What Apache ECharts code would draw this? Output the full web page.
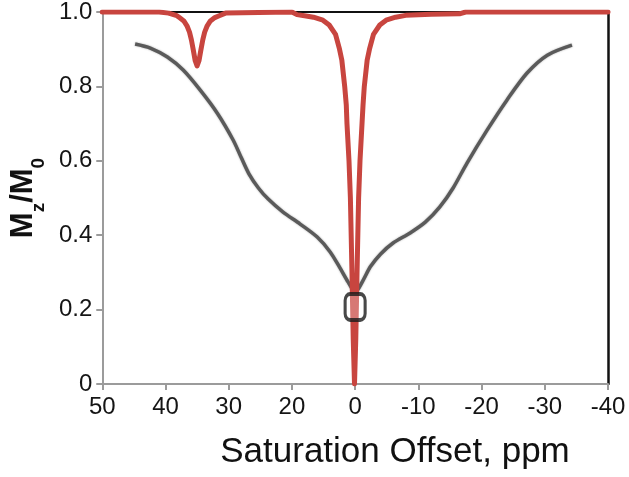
<!DOCTYPE html>
<html>
<head>
<meta charset="utf-8">
<script src="https://cdn.jsdelivr.net/npm/echarts@6/dist/echarts.min.js"></script>
<style>
html,body{margin:0;padding:0;background:#fff;}
#chart{width:629px;height:477px;}
</style>
</head>
<body>
<div id="chart"></div>
<script>
// X tick labels as printed on the original axis (equally spaced ticks)
var xTickLabels = ['50', '40', '30', '20', '0', '-10', '-20', '-30', '-40'];
var yTickLabels = ['0', '0.2', '0.4', '0.6', '0.8', '1.0'];

// Red curve (axis position units, 0 = central dip)
var redX = [40, 31, 29.5, 28.2, 27.8, 27.1, 26.6, 26.2, 25.9, 25.6, 25.3, 25.0, 24.7, 24.4, 24.1, 23.8, 23.4, 22.9, 22.2, 21.5, 20.5,
  10, 9.2, 8, 6.6, 5.1, 4.1, 3.1, 2.47, 2.1, 1.65, 1.4, 1.29, 0.97, 0.75, 0.5, 0.3, 0.1,
  -0.1, -0.3, -0.55, -0.77, -1.09, -1.25, -1.45, -1.9, -2.27, -2.9, -3.9, -4.9, -6.4, -8, -12, -16.5, -17.5, -40];
var redY = [1.0, 1.0, 0.997, 0.99, 0.985, 0.976, 0.963, 0.946, 0.925, 0.898, 0.869, 0.855, 0.869, 0.898, 0.925, 0.946, 0.963, 0.976, 0.985, 0.99, 0.997, 
  1.0, 0.993, 0.99, 0.986, 0.978, 0.965, 0.94, 0.90, 0.87, 0.80, 0.75, 0.70, 0.60, 0.50, 0.30, 0.12, 0.0,
  0.12, 0.30, 0.50, 0.60, 0.70, 0.75, 0.80, 0.87, 0.90, 0.94, 0.965, 0.978, 0.986, 0.991, 0.994, 0.995, 1.0, 1.0];

// Grey (broad) curve
var greyX = [34.8, 32.4, 29.7, 27.2, 24.5, 21.8, 19.3, 18.0, 16.8, 15.3, 13.75, 11.4, 8.7, 6.0, 3.95, 2.4, 1.1, 0.0,
  -1.3, -2.4, -4.0, -6.0, -8.7, -11.1, -13.4, -15.5, -17.7, -20.9, -24.0, -27.2, -30.4, -34.3];
var greyY = [0.914, 0.903, 0.879, 0.844, 0.790, 0.728, 0.656, 0.608, 0.565, 0.527, 0.497, 0.462, 0.430, 0.395, 0.355, 0.312, 0.274, 0.247,
  0.280, 0.315, 0.349, 0.379, 0.406, 0.435, 0.476, 0.527, 0.594, 0.683, 0.763, 0.836, 0.884, 0.911];

// Marker point
var markerX = [0];
var markerY = [0.207];

function zip(a, b) { return a.map(function (v, i) { return [v, b[i]]; }); }

var chart = echarts.init(document.getElementById('chart'), null, {renderer: 'canvas'});
var font = 'Liberation Sans, Arial, Helvetica, sans-serif';
var greyAxis = '#9b9b9b';

chart.setOption({
  animation: false,
  backgroundColor: '#ffffff',
  grid: {left: 102, right: 21, top: 12, bottom: 93, containLabel: false},
  xAxis: [{
    type: 'value', min: -40, max: 40, interval: 10, inverse: true, position: 'bottom',
    axisLine: {show: true, onZero: false, lineStyle: {color: greyAxis, width: 2}},
    axisTick: {show: true, length: 6, lineStyle: {color: greyAxis, width: 2}},
    axisLabel: {
      margin: 11, fontSize: 24, fontFamily: font, color: '#151515',
      formatter: function (v) { return xTickLabels[Math.round((40 - v) / 10)]; }
    },
    splitLine: {show: false}
  }, {
    type: 'value', min: -40, max: 40, interval: 10, inverse: true, position: 'top',
    axisLine: {show: true, onZero: false, lineStyle: {color: '#111', width: 2}},
    axisTick: {show: false}, axisLabel: {show: false}, splitLine: {show: false}
  }],
  yAxis: [{
    type: 'value', min: 0, max: 1, interval: 0.2, position: 'left',
    name: '{m|M}{s|z}{m|/M}{s|0}',
    nameLocation: 'middle', nameGap: 62, nameRotate: 90,
    nameTextStyle: {
      rich: {
        m: {fontSize: 31, fontWeight: 'bold', fontFamily: font, color: '#111', verticalAlign: 'bottom', lineHeight: 34},
        s: {fontSize: 19, fontWeight: 'bold', fontFamily: font, color: '#111', verticalAlign: 'bottom', lineHeight: 24, padding: [0, 0, -9, 0]}
      }
    },
    axisLine: {show: true, onZero: false, lineStyle: {color: greyAxis, width: 2}},
    axisTick: {show: true, length: 6, lineStyle: {color: greyAxis, width: 2}},
    axisLabel: {
      margin: 10, fontSize: 24, fontFamily: font, color: '#151515',
      formatter: function (v) { return yTickLabels[Math.round(v / 0.2)]; }
    },
    splitLine: {show: false}
  }, {
    type: 'value', min: 0, max: 1, interval: 0.2, position: 'right',
    axisLine: {show: true, onZero: false, lineStyle: {color: '#111', width: 2.5}},
    axisTick: {show: false}, axisLabel: {show: false}, splitLine: {show: false}
  }],
  graphic: [{
    type: 'text', x: 395, y: 452,
    style: {
      text: 'Saturation Offset, ppm', fill: '#111',
      font: '35px ' + font, textAlign: 'center', textVerticalAlign: 'middle',
      align: 'center', verticalAlign: 'middle'
    }
  }],
  series: [{
    type: 'line', name: 'grey', data: zip(greyX, greyY), showSymbol: false, symbol: 'none',
    smooth: 0.3, z: 2,
    lineStyle: {color: '#5a5a5a', width: 3.5, shadowBlur: 2, shadowColor: 'rgba(0,0,0,0.35)'}
  }, {
    type: 'line', name: 'red', data: zip(redX, redY), showSymbol: false, symbol: 'none',
    smooth: false, z: 3,
    lineStyle: {color: '#c8453f', width: 5, join: 'round', cap: 'round'}
  }, {
    type: 'scatter', name: 'marker', data: zip(markerX, markerY), z: 4,
    symbol: 'roundRect', symbolSize: [20, 26],
    itemStyle: {color: 'rgba(255,255,255,0.35)', borderColor: '#1a1a1a', borderWidth: 3.5}
  }]
});
</script>
</body>
</html>
